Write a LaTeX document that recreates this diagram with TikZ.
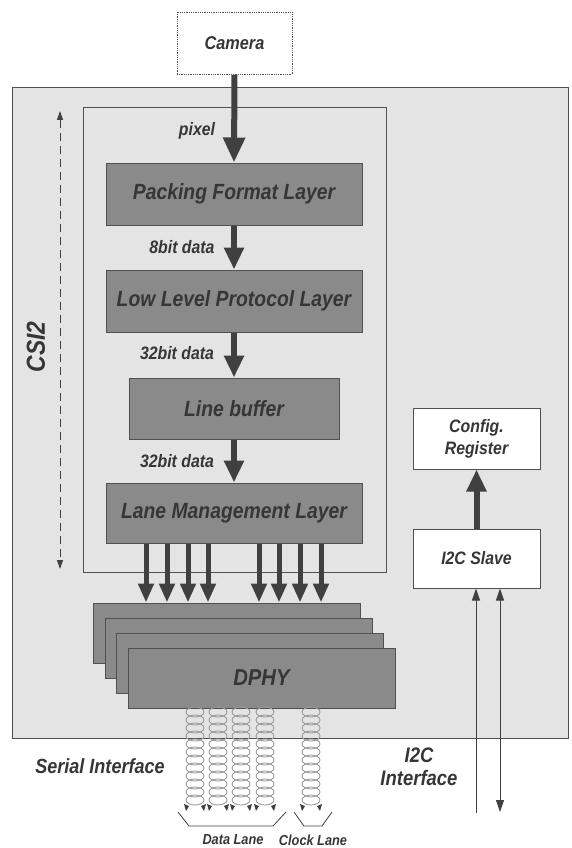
\documentclass[tikz,border=0pt]{standalone}
\usepackage{fontspec}
\newfontfamily\hv[FakeStretch=0.88]{Liberation Sans}
\usetikzlibrary{arrows.meta}
\definecolor{txt}{HTML}{363636}
\definecolor{boxfill}{HTML}{8A8A8A}
\definecolor{boxline}{HTML}{505050}
\definecolor{bg}{HTML}{E4E4E4}
\definecolor{arr}{HTML}{404040}
\definecolor{coilc}{HTML}{9A9A9A}
\tikzset{
  f/.style={font=\hv\bfseries\itshape\fontsize{#1}{#1}\selectfont, text=txt},
  layerbox/.style={draw=boxline, line width=1pt, fill=boxfill, inner sep=0pt},
  whitebox/.style={draw=boxline, line width=1pt, fill=white, inner sep=0pt, align=center},
  bigarrow/.style={draw=arr, line width=6pt, -{Triangle[width=21pt,length=25pt]}},
  midarrow/.style={draw=arr, line width=6pt, -{Triangle[width=19pt,length=22pt]}},
  lanearrow/.style={draw=arr, line width=5pt, -{Triangle[width=15pt,length=19pt]}},
  thinarrow/.style={draw=arr, line width=0.9pt},
  coil/.style={draw=coilc, line width=0.9pt},
  brace/.style={draw=arr, line width=0.8pt},
}
\begin{document}
\begin{tikzpicture}[x=1pt,y=-1pt]
\useasboundingbox (0,0) rectangle (571,848);
% outer and inner frames
\node[draw=boxline, line width=1pt, fill=bg, minimum width=556pt, minimum height=650pt, inner sep=0pt] (outer) at (290,413) {};
\node[draw=boxline, line width=1pt, minimum width=303pt, minimum height=464pt, inner sep=0pt] (csi) at (234.5,340) {};
% camera
\node[draw=boxline, densely dotted, line width=0.8pt, fill=white, minimum width=115pt, minimum height=62pt, f=18.5] (cam) at (234.5,43.5) {Camera};
% layers
\node[layerbox, minimum width=256pt, minimum height=62pt, f=22] (pfl) at (234,194) {Packing Format Layer};
\node[layerbox, minimum width=256pt, minimum height=62pt, f=22] (llp) at (234,301) {Low Level Protocol Layer};
\node[layerbox, minimum width=210pt, minimum height=61pt, f=22] (lb) at (234,408.5) {Line buffer};
\node[layerbox, minimum width=256pt, minimum height=60pt, f=22] (lml) at (234,513) {Lane Management Layer};
% DPHY stack
\node[layerbox, minimum width=267pt, minimum height=60pt] (d1) at (227,633) {};
\node[layerbox, minimum width=267pt, minimum height=60pt] (d2) at (238.5,648) {};
\node[layerbox, minimum width=267pt, minimum height=60pt] (d3) at (250,663) {};
\node[layerbox, minimum width=267pt, minimum height=60pt, f=23] (d4) at (261.5,678) {DPHY};
% config / i2c
\node[whitebox, minimum width=127pt, minimum height=61pt, f=18] (cfg) at (476.5,438.5) {Config.\\[4pt]Register};
\node[whitebox, minimum width=127pt, minimum height=59pt, f=18] (i2c) at (476.5,558.5) {I2C Slave};
% data labels
\node[f=18] (lpix) at (197,131) {pixel};
\node[f=18] (l8) at (182,247) {8bit data};
\node[f=18] (l32a) at (177,353) {32bit data};
\node[f=18] (l32b) at (177,461) {32bit data};
% arrows
\draw[bigarrow] (cam.south) -- (pfl.north);
\draw[midarrow] (pfl.south) -- (llp.north);
\draw[midarrow] (llp.south) -- (lb.north);
\draw[midarrow] (lb.south) -- (lml.north);
\foreach \xx in {146,167,188,208,259,279,300,321}{
  \draw[lanearrow] (lml.south -| \xx,0) -- (d1.north -| \xx,0);
}
\draw[midarrow] (i2c.north) -- (cfg.south);
% CSI2 dashed span
\coordinate (csitop) at (60,111);
\coordinate (csibot) at (60,569);
\draw[thinarrow, dash pattern=on 8pt off 5pt, {Triangle[width=6pt,length=9pt]}-{Triangle[width=6pt,length=9pt]}] (csitop) -- (csibot);
\node[f=26, rotate=90] (lcsi) at (36,347) {CSI2};
% I2C lines
\coordinate (i2cA) at (476,813);
\coordinate (i2cB) at (500,812);
\draw[thinarrow, -{Triangle[width=8pt,length=12pt]}] (i2cA) -- (i2c.south -| i2cA);
\draw[thinarrow, {Triangle[width=8pt,length=12pt]}-{Triangle[width=8pt,length=12pt]}] (i2cB) -- (i2c.south -| i2cB);
% coils
\foreach \cx in {195,218,241,265,311}{
  \foreach \k in {0,...,11}{
    \draw[coil] (\cx,{712+\k*8}) ellipse [x radius=9pt, y radius=5pt];
  }
  \fill[arr] (\cx-11,804) -- (\cx-6,806) -- (\cx-9,811) -- cycle;
  \fill[arr] (\cx+11,804) -- (\cx+6,806) -- (\cx+9,811) -- cycle;
}
% braces
\draw[brace] (178,812) -- (189,826) -- (273,826) -- (286,812);
\draw[brace] (294,812) -- (304,826) -- (322,826) -- (332,812);
\node[f=14.5] (ldata) at (233,840) {Data Lane};
\node[f=14.5] (lclock) at (313,840) {Clock Lane};
% interface labels
\node[f=20.5] (lser) at (100,766) {Serial Interface};
\node[f=21, align=center] (li2c) at (419,767) {I2C\\[2pt]Interface};
\end{tikzpicture}
\end{document}
